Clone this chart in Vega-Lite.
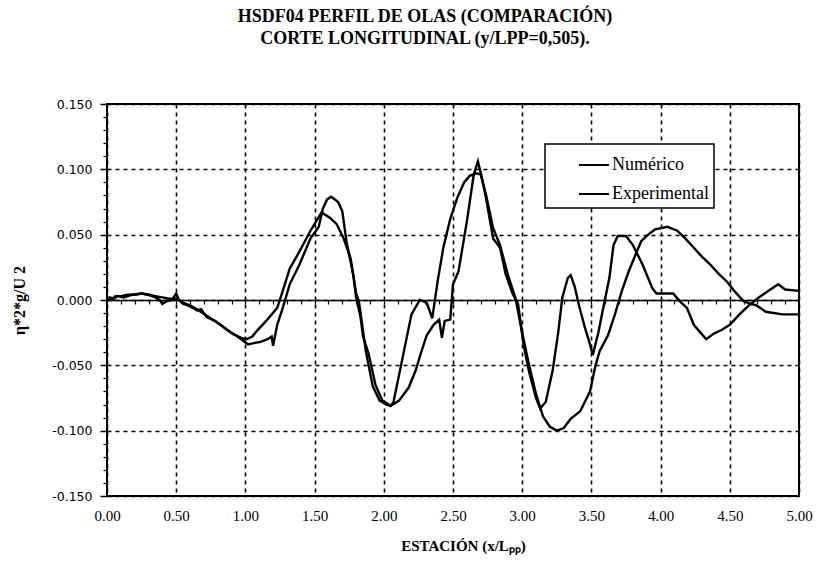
{
  "$schema": "https://vega.github.io/schema/vega-lite/v6.json",
  "width": 692,
  "height": 392,
  "autosize": {"type": "none"},
  "padding": {"left": 107, "top": 104, "right": 18, "bottom": 67},
  "background": "white",
  "title": {
    "text": ["HSDF04 PERFIL DE OLAS (COMPARACIÓN)", "CORTE LONGITUDINAL (y/LPP=0,505)."],
    "font": "Liberation Serif",
    "fontSize": 18,
    "fontWeight": "bold",
    "lineHeight": 22,
    "anchor": "middle",
    "dx": -28,
    "offset": 50,
    "color": "black"
  },
  "data": {
    "values": [
      {"serie": "Numérico", "x": 0.00, "y": 0.002},
      {"serie": "Numérico", "x": 0.03, "y": 0.000},
      {"serie": "Numérico", "x": 0.06, "y": 0.003},
      {"serie": "Numérico", "x": 0.10, "y": 0.003},
      {"serie": "Numérico", "x": 0.15, "y": 0.004},
      {"serie": "Numérico", "x": 0.20, "y": 0.004},
      {"serie": "Numérico", "x": 0.25, "y": 0.005},
      {"serie": "Numérico", "x": 0.30, "y": 0.004},
      {"serie": "Numérico", "x": 0.35, "y": 0.003},
      {"serie": "Numérico", "x": 0.40, "y": 0.002},
      {"serie": "Numérico", "x": 0.45, "y": 0.001},
      {"serie": "Numérico", "x": 0.50, "y": 0.001},
      {"serie": "Numérico", "x": 0.55, "y": -0.002},
      {"serie": "Numérico", "x": 0.60, "y": -0.004},
      {"serie": "Numérico", "x": 0.65, "y": -0.007},
      {"serie": "Numérico", "x": 0.72, "y": -0.012},
      {"serie": "Numérico", "x": 0.82, "y": -0.019},
      {"serie": "Numérico", "x": 0.91, "y": -0.026},
      {"serie": "Numérico", "x": 0.97, "y": -0.029},
      {"serie": "Numérico", "x": 1.01, "y": -0.030},
      {"serie": "Numérico", "x": 1.05, "y": -0.028},
      {"serie": "Numérico", "x": 1.08, "y": -0.024},
      {"serie": "Numérico", "x": 1.15, "y": -0.016},
      {"serie": "Numérico", "x": 1.23, "y": -0.006},
      {"serie": "Numérico", "x": 1.27, "y": 0.007},
      {"serie": "Numérico", "x": 1.32, "y": 0.024},
      {"serie": "Numérico", "x": 1.39, "y": 0.037},
      {"serie": "Numérico", "x": 1.47, "y": 0.053},
      {"serie": "Numérico", "x": 1.51, "y": 0.060},
      {"serie": "Numérico", "x": 1.55, "y": 0.067},
      {"serie": "Numérico", "x": 1.61, "y": 0.063},
      {"serie": "Numérico", "x": 1.66, "y": 0.058},
      {"serie": "Numérico", "x": 1.71, "y": 0.047},
      {"serie": "Numérico", "x": 1.76, "y": 0.032},
      {"serie": "Numérico", "x": 1.80, "y": 0.005},
      {"serie": "Numérico", "x": 1.82, "y": -0.001},
      {"serie": "Numérico", "x": 1.87, "y": -0.039},
      {"serie": "Numérico", "x": 1.92, "y": -0.066},
      {"serie": "Numérico", "x": 1.97, "y": -0.077},
      {"serie": "Numérico", "x": 2.02, "y": -0.080},
      {"serie": "Numérico", "x": 2.05, "y": -0.081},
      {"serie": "Numérico", "x": 2.07, "y": -0.078},
      {"serie": "Numérico", "x": 2.14, "y": -0.042},
      {"serie": "Numérico", "x": 2.20, "y": -0.011},
      {"serie": "Numérico", "x": 2.26, "y": 0.000},
      {"serie": "Numérico", "x": 2.31, "y": -0.002},
      {"serie": "Numérico", "x": 2.35, "y": -0.014},
      {"serie": "Numérico", "x": 2.39, "y": 0.015},
      {"serie": "Numérico", "x": 2.43, "y": 0.040},
      {"serie": "Numérico", "x": 2.48, "y": 0.062},
      {"serie": "Numérico", "x": 2.53, "y": 0.078},
      {"serie": "Numérico", "x": 2.58, "y": 0.090},
      {"serie": "Numérico", "x": 2.62, "y": 0.095},
      {"serie": "Numérico", "x": 2.67, "y": 0.097},
      {"serie": "Numérico", "x": 2.70, "y": 0.096},
      {"serie": "Numérico", "x": 2.74, "y": 0.080},
      {"serie": "Numérico", "x": 2.79, "y": 0.055},
      {"serie": "Numérico", "x": 2.84, "y": 0.042},
      {"serie": "Numérico", "x": 2.90, "y": 0.018},
      {"serie": "Numérico", "x": 2.95, "y": 0.002},
      {"serie": "Numérico", "x": 3.00, "y": -0.025},
      {"serie": "Numérico", "x": 3.05, "y": -0.050},
      {"serie": "Numérico", "x": 3.10, "y": -0.072},
      {"serie": "Numérico", "x": 3.15, "y": -0.089},
      {"serie": "Numérico", "x": 3.20, "y": -0.097},
      {"serie": "Numérico", "x": 3.25, "y": -0.100},
      {"serie": "Numérico", "x": 3.30, "y": -0.098},
      {"serie": "Numérico", "x": 3.35, "y": -0.091},
      {"serie": "Numérico", "x": 3.42, "y": -0.085},
      {"serie": "Numérico", "x": 3.49, "y": -0.070},
      {"serie": "Numérico", "x": 3.53, "y": -0.050},
      {"serie": "Numérico", "x": 3.56, "y": -0.039},
      {"serie": "Numérico", "x": 3.62, "y": -0.027},
      {"serie": "Numérico", "x": 3.67, "y": -0.011},
      {"serie": "Numérico", "x": 3.72, "y": 0.007},
      {"serie": "Numérico", "x": 3.77, "y": 0.022},
      {"serie": "Numérico", "x": 3.82, "y": 0.035},
      {"serie": "Numérico", "x": 3.86, "y": 0.045},
      {"serie": "Numérico", "x": 3.91, "y": 0.050},
      {"serie": "Numérico", "x": 3.96, "y": 0.054},
      {"serie": "Numérico", "x": 4.05, "y": 0.056},
      {"serie": "Numérico", "x": 4.12, "y": 0.053},
      {"serie": "Numérico", "x": 4.18, "y": 0.047},
      {"serie": "Numérico", "x": 4.24, "y": 0.040},
      {"serie": "Numérico", "x": 4.30, "y": 0.033},
      {"serie": "Numérico", "x": 4.36, "y": 0.027},
      {"serie": "Numérico", "x": 4.42, "y": 0.020},
      {"serie": "Numérico", "x": 4.48, "y": 0.014},
      {"serie": "Numérico", "x": 4.54, "y": 0.006},
      {"serie": "Numérico", "x": 4.60, "y": -0.001},
      {"serie": "Numérico", "x": 4.65, "y": -0.003},
      {"serie": "Numérico", "x": 4.69, "y": -0.004},
      {"serie": "Numérico", "x": 4.76, "y": -0.009},
      {"serie": "Numérico", "x": 4.88, "y": -0.011},
      {"serie": "Numérico", "x": 5.00, "y": -0.011},
      {"serie": "Experimental", "x": 0.00, "y": -0.001},
      {"serie": "Experimental", "x": 0.02, "y": 0.002},
      {"serie": "Experimental", "x": 0.05, "y": 0.001},
      {"serie": "Experimental", "x": 0.08, "y": 0.003},
      {"serie": "Experimental", "x": 0.12, "y": 0.002},
      {"serie": "Experimental", "x": 0.18, "y": 0.004},
      {"serie": "Experimental", "x": 0.25, "y": 0.005},
      {"serie": "Experimental", "x": 0.30, "y": 0.004},
      {"serie": "Experimental", "x": 0.35, "y": 0.002},
      {"serie": "Experimental", "x": 0.38, "y": 0.000},
      {"serie": "Experimental", "x": 0.40, "y": -0.003},
      {"serie": "Experimental", "x": 0.43, "y": -0.001},
      {"serie": "Experimental", "x": 0.47, "y": 0.000},
      {"serie": "Experimental", "x": 0.50, "y": 0.005},
      {"serie": "Experimental", "x": 0.52, "y": 0.000},
      {"serie": "Experimental", "x": 0.55, "y": -0.003},
      {"serie": "Experimental", "x": 0.58, "y": -0.004},
      {"serie": "Experimental", "x": 0.62, "y": -0.006},
      {"serie": "Experimental", "x": 0.65, "y": -0.008},
      {"serie": "Experimental", "x": 0.68, "y": -0.007},
      {"serie": "Experimental", "x": 0.72, "y": -0.013},
      {"serie": "Experimental", "x": 0.78, "y": -0.016},
      {"serie": "Experimental", "x": 0.82, "y": -0.019},
      {"serie": "Experimental", "x": 0.88, "y": -0.024},
      {"serie": "Experimental", "x": 0.93, "y": -0.027},
      {"serie": "Experimental", "x": 0.97, "y": -0.030},
      {"serie": "Experimental", "x": 1.02, "y": -0.034},
      {"serie": "Experimental", "x": 1.06, "y": -0.033},
      {"serie": "Experimental", "x": 1.11, "y": -0.032},
      {"serie": "Experimental", "x": 1.16, "y": -0.030},
      {"serie": "Experimental", "x": 1.19, "y": -0.028},
      {"serie": "Experimental", "x": 1.20, "y": -0.035},
      {"serie": "Experimental", "x": 1.23, "y": -0.019},
      {"serie": "Experimental", "x": 1.27, "y": -0.006},
      {"serie": "Experimental", "x": 1.32, "y": 0.012},
      {"serie": "Experimental", "x": 1.39, "y": 0.027},
      {"serie": "Experimental", "x": 1.47, "y": 0.047},
      {"serie": "Experimental", "x": 1.53, "y": 0.056},
      {"serie": "Experimental", "x": 1.56, "y": 0.070},
      {"serie": "Experimental", "x": 1.59, "y": 0.077},
      {"serie": "Experimental", "x": 1.62, "y": 0.079},
      {"serie": "Experimental", "x": 1.67, "y": 0.075},
      {"serie": "Experimental", "x": 1.70, "y": 0.068},
      {"serie": "Experimental", "x": 1.73, "y": 0.045},
      {"serie": "Experimental", "x": 1.78, "y": 0.019},
      {"serie": "Experimental", "x": 1.80, "y": 0.002},
      {"serie": "Experimental", "x": 1.83, "y": -0.012},
      {"serie": "Experimental", "x": 1.85, "y": -0.028},
      {"serie": "Experimental", "x": 1.89, "y": -0.041},
      {"serie": "Experimental", "x": 1.94, "y": -0.065},
      {"serie": "Experimental", "x": 1.99, "y": -0.077},
      {"serie": "Experimental", "x": 2.05, "y": -0.081},
      {"serie": "Experimental", "x": 2.11, "y": -0.077},
      {"serie": "Experimental", "x": 2.18, "y": -0.067},
      {"serie": "Experimental", "x": 2.23, "y": -0.054},
      {"serie": "Experimental", "x": 2.27, "y": -0.040},
      {"serie": "Experimental", "x": 2.31, "y": -0.027},
      {"serie": "Experimental", "x": 2.36, "y": -0.019},
      {"serie": "Experimental", "x": 2.40, "y": -0.015},
      {"serie": "Experimental", "x": 2.42, "y": -0.029},
      {"serie": "Experimental", "x": 2.44, "y": -0.016},
      {"serie": "Experimental", "x": 2.48, "y": -0.015},
      {"serie": "Experimental", "x": 2.50, "y": 0.012},
      {"serie": "Experimental", "x": 2.54, "y": 0.022},
      {"serie": "Experimental", "x": 2.60, "y": 0.060},
      {"serie": "Experimental", "x": 2.65, "y": 0.096},
      {"serie": "Experimental", "x": 2.68, "y": 0.106},
      {"serie": "Experimental", "x": 2.71, "y": 0.093},
      {"serie": "Experimental", "x": 2.74, "y": 0.077},
      {"serie": "Experimental", "x": 2.79, "y": 0.047},
      {"serie": "Experimental", "x": 2.84, "y": 0.040},
      {"serie": "Experimental", "x": 2.88, "y": 0.020},
      {"serie": "Experimental", "x": 2.93, "y": 0.005},
      {"serie": "Experimental", "x": 2.97, "y": -0.003},
      {"serie": "Experimental", "x": 3.01, "y": -0.034},
      {"serie": "Experimental", "x": 3.05, "y": -0.055},
      {"serie": "Experimental", "x": 3.10, "y": -0.075},
      {"serie": "Experimental", "x": 3.13, "y": -0.083},
      {"serie": "Experimental", "x": 3.17, "y": -0.078},
      {"serie": "Experimental", "x": 3.22, "y": -0.054},
      {"serie": "Experimental", "x": 3.26, "y": -0.025},
      {"serie": "Experimental", "x": 3.29, "y": 0.002},
      {"serie": "Experimental", "x": 3.33, "y": 0.017},
      {"serie": "Experimental", "x": 3.35, "y": 0.019},
      {"serie": "Experimental", "x": 3.38, "y": 0.010},
      {"serie": "Experimental", "x": 3.41, "y": -0.004},
      {"serie": "Experimental", "x": 3.45, "y": -0.020},
      {"serie": "Experimental", "x": 3.49, "y": -0.034},
      {"serie": "Experimental", "x": 3.51, "y": -0.042},
      {"serie": "Experimental", "x": 3.55, "y": -0.025},
      {"serie": "Experimental", "x": 3.58, "y": -0.009},
      {"serie": "Experimental", "x": 3.63, "y": 0.017},
      {"serie": "Experimental", "x": 3.66, "y": 0.042},
      {"serie": "Experimental", "x": 3.69, "y": 0.049},
      {"serie": "Experimental", "x": 3.75, "y": 0.049},
      {"serie": "Experimental", "x": 3.80, "y": 0.042},
      {"serie": "Experimental", "x": 3.87, "y": 0.027},
      {"serie": "Experimental", "x": 3.94, "y": 0.009},
      {"serie": "Experimental", "x": 3.97, "y": 0.005},
      {"serie": "Experimental", "x": 4.03, "y": 0.005},
      {"serie": "Experimental", "x": 4.09, "y": 0.005},
      {"serie": "Experimental", "x": 4.14, "y": -0.001},
      {"serie": "Experimental", "x": 4.19, "y": -0.006},
      {"serie": "Experimental", "x": 4.24, "y": -0.019},
      {"serie": "Experimental", "x": 4.28, "y": -0.024},
      {"serie": "Experimental", "x": 4.33, "y": -0.030},
      {"serie": "Experimental", "x": 4.38, "y": -0.026},
      {"serie": "Experimental", "x": 4.44, "y": -0.023},
      {"serie": "Experimental", "x": 4.50, "y": -0.019},
      {"serie": "Experimental", "x": 4.57, "y": -0.011},
      {"serie": "Experimental", "x": 4.64, "y": -0.004},
      {"serie": "Experimental", "x": 4.71, "y": 0.002},
      {"serie": "Experimental", "x": 4.78, "y": 0.007},
      {"serie": "Experimental", "x": 4.85, "y": 0.012},
      {"serie": "Experimental", "x": 4.90, "y": 0.008},
      {"serie": "Experimental", "x": 5.00, "y": 0.007}
    ]
  },
  "layer": [
    {
      "mark": {"type": "line", "strokeWidth": 2.2, "strokeOpacity": 0},
      "encoding": {
        "x": {
          "field": "x", "type": "quantitative",
          "scale": {"domain": [0, 5], "nice": false, "zero": false},
          "axis": {
            "orient": "bottom", "offset": -196,
            "values": [0.1,0.2,0.3,0.4,0.5,0.6,0.7,0.8,0.9,1.0,1.1,1.2,1.3,1.4,1.5,1.6,1.7,1.8,1.9,2.0,2.1,2.2,2.3,2.4,2.5,2.6,2.7,2.8,2.9,3.0,3.1,3.2,3.3,3.4,3.5,3.6,3.7,3.8,3.9,4.0,4.1,4.2,4.3,4.4,4.5,4.6,4.7,4.8,4.9],
            "labels": false, "grid": false, "title": null,
            "domain": true, "domainColor": "black", "domainWidth": 1.6,
            "ticks": true, "tickSize": 4, "tickColor": "black", "tickWidth": 1.2
          }
        },
        "y": {
          "field": "y", "type": "quantitative",
          "scale": {"domain": [-0.15, 0.15], "nice": false, "zero": false},
          "axis": {
            "orient": "left",
            "values": [-0.14,-0.13,-0.12,-0.11,-0.09,-0.08,-0.07,-0.06,-0.04,-0.03,-0.02,-0.01,0.01,0.02,0.03,0.04,0.06,0.07,0.08,0.09,0.11,0.12,0.13,0.14],
            "labels": false, "grid": false, "title": null, "domain": false,
            "ticks": true, "tickSize": 4, "tickColor": "black", "tickWidth": 1.2
          }
        }
      }
    },
    {
      "mark": {"type": "line", "strokeWidth": 2.4},
      "encoding": {
        "x": {
          "field": "x", "type": "quantitative",
          "axis": {
            "orient": "bottom",
            "values": [0, 0.5, 1, 1.5, 2, 2.5, 3, 3.5, 4, 4.5, 5],
            "format": ".2f",
            "title": "ESTACIÓN (x/Lₚₚ)",
            "titleX": 356,
            "grid": true, "gridColor": "black", "gridDash": [4, 4], "gridWidth": 1.6, "gridOpacity": 1,
            "ticks": false, "domain": false,
            "labelFont": "Liberation Serif", "labelFontSize": 15, "labelColor": "black",
            "labelPadding": 12, "labelFlush": false,
            "titleFont": "Liberation Serif", "titleFontSize": 15, "titleFontWeight": "bold",
            "titleColor": "black", "titlePadding": 15
          }
        },
        "y": {
          "field": "y", "type": "quantitative",
          "axis": {
            "orient": "left",
            "values": [-0.15, -0.1, -0.05, 0, 0.05, 0.1, 0.15],
            "format": ".3f",
            "labelExpr": "replace(datum.label, '−', '-')",
            "title": "η*2*g/U 2",
            "grid": true, "gridColor": "black", "gridDash": [4, 4], "gridWidth": 1.6, "gridOpacity": 1,
            "domain": false,
            "ticks": true, "tickSize": 7, "tickColor": "black", "tickWidth": 1.5,
            "labelFont": "DejaVu Sans", "labelFontSize": 12.5, "labelColor": "black", "labelPadding": 8,
            "labelFlush": false,
            "titleFont": "Liberation Serif", "titleFontSize": 16, "titleFontWeight": "bold",
            "titleColor": "black", "titlePadding": 24
          }
        },
        "color": {
          "field": "serie", "type": "nominal",
          "scale": {"domain": ["Numérico", "Experimental"], "range": ["black", "black"]},
          "legend": {
            "orient": "none", "legendX": 438, "legendY": 40,
            "title": null,
            "strokeColor": "black", "fillColor": "white", "padding": 5,
            "symbolType": "stroke", "symbolSize": 900, "symbolStrokeWidth": 2,
            "symbolOffset": 28,
            "labelExpr": "datum.label + '\u2003\u2002'",
            "labelFont": "Liberation Serif", "labelFontSize": 18, "labelColor": "black",
            "labelOffset": 2, "rowPadding": 4
          }
        }
      }
    }
  ],
  "resolve": {"axis": {"x": "independent", "y": "independent"}},
  "config": {
    "view": {"stroke": "black", "strokeWidth": 2},
    "legend": {"strokeWidth": 1.5}
  }
}
